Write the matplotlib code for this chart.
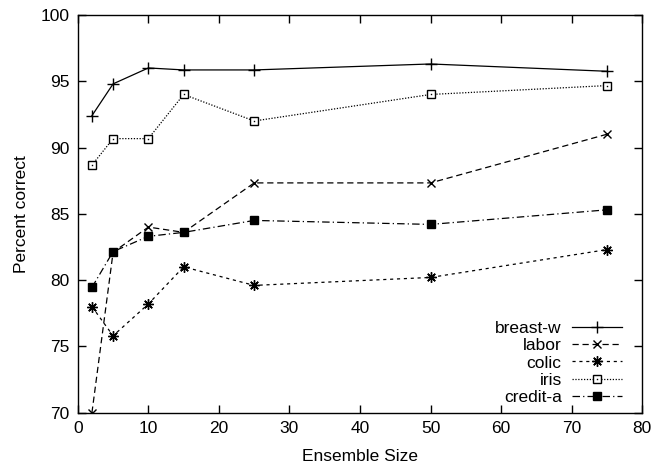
import matplotlib
matplotlib.use("Agg")
import matplotlib.pyplot as plt
from matplotlib.legend_handler import HandlerTuple

plt.rcParams['font.family'] = ['Liberation Sans', 'DejaVu Sans']

ensemble_size = [2, 5, 10, 15, 25, 50, 75]

breast_w = [92.4, 94.8, 96.0, 95.85, 95.85, 96.3, 95.75]
labor = [70.0, 82.1, 84.0, 83.6, 87.33, 87.33, 91.0]
colic = [78.0, 75.8, 78.2, 81.0, 79.6, 80.2, 82.3]
iris = [88.67, 90.67, 90.67, 94.0, 92.0, 94.0, 94.67]
credit_a = [79.45, 82.15, 83.3, 83.6, 84.5, 84.2, 85.3]

fs = 12.5

fig = plt.figure(figsize=(6.54, 4.66), dpi=100)
ax = fig.add_axes([0.119, 0.1144, 0.863, 0.8536])

lw = 0.9
h1, = ax.plot(ensemble_size, breast_w, color="black", lw=lw, linestyle="-",
              marker="+", ms=8, mew=1.0)
h2, = ax.plot(ensemble_size, labor, color="black", lw=lw, linestyle=(0, (5, 3)),
              marker="x", ms=6, mew=1.0)
h3, = ax.plot(ensemble_size, colic, color="black", lw=lw, linestyle=(0, (2.5, 3)),
              marker=(8, 2, 0), ms=7.5, mew=1.0)
h4, = ax.plot(ensemble_size, iris, color="black", lw=lw, linestyle=(0, (1, 1.3)),
              marker="s", ms=6, mew=1.0, mfc="white")
h4d, = ax.plot(ensemble_size, iris, color="black", linestyle="none",
               marker="s", ms=1.0, mew=0)
h5, = ax.plot(ensemble_size, credit_a, color="black", lw=lw,
              linestyle=(0, (6, 2.5, 1, 2.5)), marker="s", ms=6, mfc="black")

ax.set_xlim(0, 80)
ax.set_ylim(70, 100)
ax.set_xticks(range(0, 81, 10))
ax.set_yticks(range(70, 101, 5))
ax.tick_params(direction="in", length=6, width=1.0, top=True, right=True,
               labelsize=fs, pad=6)
for s in ax.spines.values():
    s.set_linewidth(1.0)

ax.set_xlabel("Ensemble Size", fontsize=fs, labelpad=9)
ax.set_ylabel("Percent correct", fontsize=fs, labelpad=8)

ax.legend([h1, h2, h3, (h4, h4d), h5],
          ["breast-w", "labor", "colic", "iris", "credit-a"],
          handler_map={tuple: HandlerTuple(ndivide=1, pad=0)},
          loc="lower right", bbox_to_anchor=(0.968, 0.014),
          frameon=False, markerfirst=False, fontsize=fs,
          handlelength=2.9, labelspacing=0.13, borderaxespad=0,
          handletextpad=0.6, numpoints=1, borderpad=0.1)

fig.savefig("out.png", dpi=100)
